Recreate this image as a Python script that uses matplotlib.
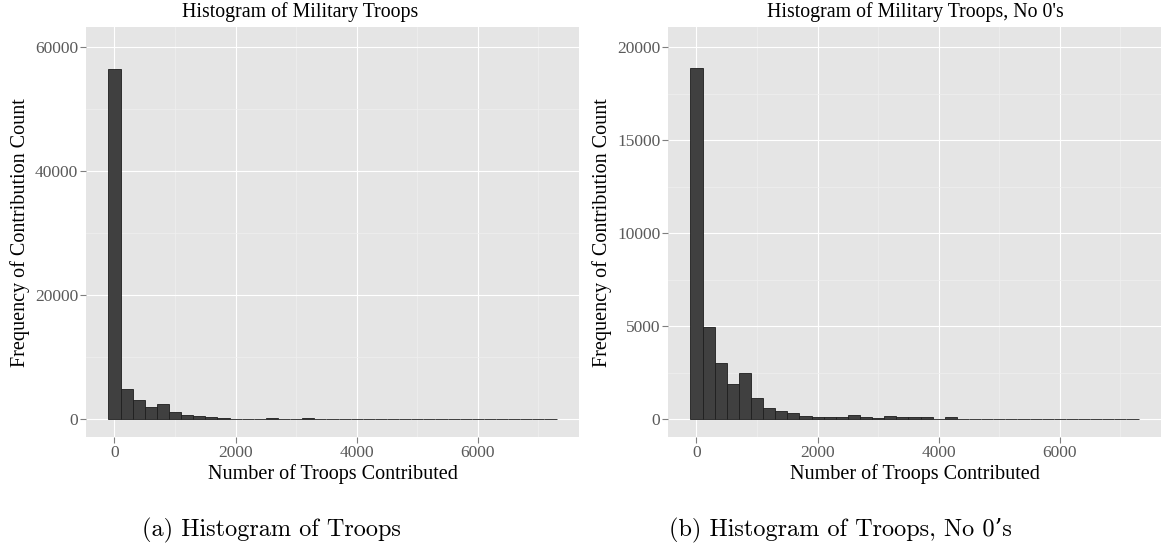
import numpy as np
import matplotlib
matplotlib.use('Agg')
import matplotlib.pyplot as plt
from matplotlib.ticker import MultipleLocator

# histogram bins: width 200, centred on multiples of 200
bin_edges = np.arange(-100, 7301, 200)

# counts without zeros (panel b)
counts_no_zero = [18890, 4940, 3050, 1900, 2480, 1130, 620, 460, 320, 160,
                  125, 125, 125, 210, 125, 90, 160, 110, 105, 105,
                  40, 100, 40, 15, 15, 10, 15, 10, 10, 15,
                  10, 5, 10, 5, 5, 5, 5]
# panel a is the same, except the first bin also holds the zeros
counts_all = [56450] + counts_no_zero[1:]

titles = ['Histogram of Military Troops', "Histogram of Military Troops, No 0's"]
captions = ['(a) Histogram of Troops', '(b) Histogram of Troops, No 0\u2019s']
y_major = [[0, 20000, 40000, 60000], [0, 5000, 10000, 15000, 20000]]
y_minor = [10000, 2500]
y_lims = [(-2900, 63170), (-967, 21075)]

plt.rcParams['font.family'] = ['Liberation Serif', 'DejaVu Serif']

fig = plt.figure(figsize=(11.63, 5.45), dpi=100)
W, H = 1163, 545
panels = [(86, 579), (668, 1161)]
title_x = [300, 915]
caption_x = [271, 840]

for i, counts in enumerate([counts_all, counts_no_zero]):
    x0, x1 = panels[i]
    ax = fig.add_axes([x0 / W, 1 - 437.3 / H, (x1 - x0) / W, (437.3 - 27) / H])
    ax.set_facecolor('#e5e5e5')
    ax.hist(bin_edges[:-1], bins=bin_edges, weights=counts,
            color='#404040', edgecolor='#1e1e1e', linewidth=0.6, zorder=3)
    ax.set_xlim(-470, 7670)
    ax.set_ylim(*y_lims[i])
    ax.set_xticks([0, 2000, 4000, 6000])
    ax.xaxis.set_minor_locator(MultipleLocator(1000))
    ax.set_yticks(y_major[i])
    ax.yaxis.set_minor_locator(MultipleLocator(y_minor[i]))
    ax.grid(which='major', color='white', linewidth=0.8, zorder=0)
    ax.grid(which='minor', color='#f0f0f0', linewidth=0.5, zorder=0)
    ax.set_axisbelow(True)
    for s in ax.spines.values():
        s.set_visible(False)
    ax.tick_params(which='major', length=4, width=0.8, color='#7f7f7f',
                   labelsize=12.5, labelcolor='#5a5a5a', pad=1.5)
    ax.tick_params(which='minor', length=0)
    ax.set_xlabel('Number of Troops Contributed', fontsize=14.5, labelpad=2)
    ax.set_ylabel('Frequency of Contribution Count', fontsize=14.5, labelpad=4)
    fig.text(title_x[i] / W, 1 - 12 / H, titles[i], fontsize=14.3,
             ha='center', va='center')
    fig.text(caption_x[i] / W, 1 - 530 / H, captions[i], fontsize=17.5,
             family=['cmr10', 'DejaVu Serif'], ha='center', va='center')

fig.savefig('out.png', dpi=100)
